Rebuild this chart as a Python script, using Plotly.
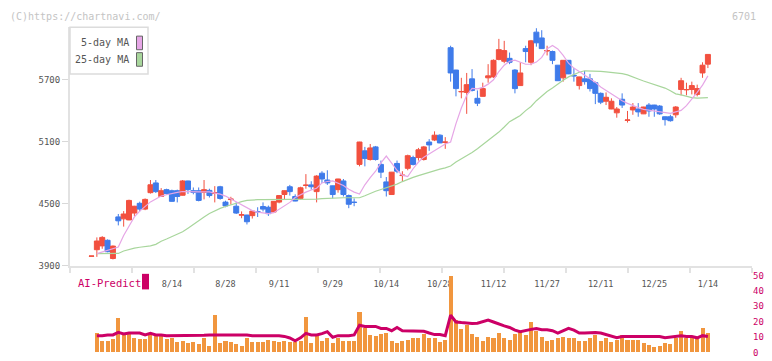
import plotly.graph_objects as go

W, H = 772, 361


def fx(px):
    return px / W


def fy(py):
    return 1 - py / H


# ---------------- data ----------------
tick_idx = [15, 25, 35, 45, 55, 65, 75, 85, 95, 105, 115]
tick_text = ["8/14", "8/28", "9/11", "9/29", "10/14", "10/28",
             "11/12", "11/27", "12/11", "12/25", "1/14"]

open_ = [3993, 4056, 4093, 4147, 3971, 4373, 4354, 4344, 4410, 4504,
         4448, 4607, 4701, 4570, 4636, 4626, 4626, 4582, 4720, 4626,
         4626, 4610, 4629, 4600, 4664, 4516, 4540, 4476, 4390, 4391,
         4385, 4425, 4473, 4466, 4420, 4516, 4589, 4664, 4570, 4551,
         4676, 4682, 4617, 4795, 4729, 4673, 4636, 4720, 4579, 4515,
         4880, 5011, 4927, 5049, 4880, 4711, 4589, 4889, 4772, 4842,
         4946, 4946, 4927, 5096, 5115, 5162, 5092, 6007, 5791, 5580,
         5575, 5706, 5518, 5537, 5716, 5725, 5894, 5876, 5904, 5791,
         5641, 5998, 5866, 6157, 6101, 5975, 5970, 5838, 5716, 5885,
         5740, 5641, 5706, 5706, 5669, 5566, 5490, 5415, 5378, 5509,
         5305, 5406, 5415, 5368, 5453, 5453, 5443, 5340, 5340, 5359,
         5603, 5600, 5603, 5556, 5763, 5848]
high = [3995, 4175, 4187, 4156, 4097, 4401, 4429, 4539, 4480, 4520,
        4551, 4729, 4729, 4651, 4645, 4636, 4636, 4729, 4722, 4657,
        4657, 4729, 4645, 4670, 4673, 4529, 4567, 4513, 4426, 4393,
        4431, 4466, 4513, 4482, 4525, 4581, 4628, 4682, 4591, 4664,
        4786, 4717, 4776, 4814, 4823, 4675, 4741, 4739, 4589, 4551,
        5098, 5049, 5077, 5058, 4917, 4758, 4807, 4917, 4814, 4974,
        4964, 5039, 5058, 5124, 5199, 5171, 5143, 6026, 5793, 5716,
        5763, 5800, 5594, 5669, 5848, 5894, 6092, 6073, 5960, 5800,
        5866, 6026, 6082, 6195, 6176, 6026, 5979, 5840, 5887, 5887,
        5810, 5727, 5782, 5754, 5679, 5575, 5575, 5518, 5434, 5566,
        5396, 5472, 5472, 5436, 5472, 5455, 5453, 5342, 5359, 5443,
        5716, 5669, 5679, 5650, 5866, 5944]
low = [3993, 3987, 4065, 4031, 3962, 4291, 4279, 4341, 4382, 4426,
       4438, 4598, 4604, 4567, 4589, 4520, 4513, 4579, 4595, 4591,
       4523, 4542, 4560, 4513, 4539, 4466, 4492, 4401, 4360, 4300,
       4357, 4372, 4426, 4382, 4410, 4504, 4542, 4579, 4524, 4542,
       4645, 4636, 4513, 4701, 4682, 4551, 4607, 4570, 4457, 4476,
       4861, 4861, 4917, 4917, 4748, 4570, 4587, 4795, 4711, 4823,
       4870, 4917, 4917, 5011, 5105, 5085, 5030, 5679, 5537, 5518,
       5368, 5584, 5443, 5535, 5669, 5716, 5885, 5857, 5848, 5566,
       5639, 5866, 5838, 6017, 5996, 5932, 5848, 5686, 5679, 5752,
       5679, 5603, 5650, 5584, 5462, 5462, 5453, 5413, 5331, 5425,
       5284, 5359, 5340, 5366, 5340, 5340, 5359, 5255, 5293, 5331,
       5547, 5547, 5556, 5537, 5716, 5810]
close = [3995, 4140, 4175, 4037, 4091, 4335, 4401, 4532, 4476, 4448,
         4542, 4683, 4617, 4626, 4598, 4523, 4570, 4720, 4636, 4610,
         4532, 4636, 4579, 4607, 4551, 4479, 4545, 4410, 4394, 4326,
         4429, 4422, 4448, 4404, 4523, 4579, 4626, 4617, 4526, 4654,
         4680, 4664, 4767, 4739, 4701, 4589, 4739, 4589, 4495, 4513,
         5096, 4936, 5039, 4927, 4805, 4626, 4805, 4814, 4776, 4964,
         4880, 5021, 5049, 5068, 5162, 5087, 5096, 5763, 5612, 5584,
         5650, 5594, 5471, 5612, 5735, 5885, 5988, 5979, 5866, 5612,
         5763, 5970, 6073, 6054, 5998, 5979, 5885, 5688, 5885, 5754,
         5735, 5725, 5679, 5612, 5566, 5481, 5528, 5490, 5415, 5453,
         5309, 5434, 5387, 5434, 5396, 5415, 5368, 5312, 5302, 5434,
         5688, 5603, 5641, 5612, 5838, 5942]

ma5 = [None, 4018, 4034, 4053, 4072, 4081, 4194, 4283, 4373, 4429,
       4471, 4518, 4546, 4574, 4587, 4600, 4610, 4618, 4619, 4615,
       4614, 4614, 4614, 4603, 4593, 4574, 4546, 4518, 4482, 4457,
       4434, 4419, 4408, 4404, 4414, 4448, 4485, 4513, 4560, 4589,
       4612, 4633, 4650, 4701, 4715, 4720, 4697, 4677, 4640, 4612,
       4593, 4683, 4751, 4814, 4894, 4960, 4892, 4823, 4776, 4762,
       4838, 4903, 4950, 4983, 5016, 5046, 5077, 5096, 5274, 5425,
       5547, 5613, 5610, 5624, 5655, 5697, 5777, 5838, 5876, 5887,
       5866, 5847, 5847, 5868, 5913, 5996, 6029, 5995, 5932, 5857,
       5810, 5777, 5744, 5711, 5674, 5628, 5594, 5560, 5525, 5495,
       5469, 5446, 5428, 5412, 5405, 5396, 5388, 5380, 5373, 5387,
       5401, 5448, 5509, 5575, 5645, 5735]
ma25 = [None, 4018, 4018, 4018, 4018, 4020, 4044, 4060, 4072, 4080,
        4086, 4093, 4108, 4138, 4159, 4182, 4205, 4229, 4264, 4302,
        4337, 4373, 4405, 4434, 4455, 4473, 4491, 4508, 4521, 4532,
        4537, 4539, 4539, 4539, 4539, 4539, 4539, 4539, 4539, 4539,
        4539, 4539, 4545, 4549, 4553, 4557, 4558, 4558, 4558, 4558,
        4558, 4577, 4600, 4621, 4638, 4654, 4671, 4689, 4714, 4737,
        4754, 4772, 4789, 4806, 4822, 4834, 4847, 4865, 4903, 4931,
        4962, 4994, 5032, 5070, 5110, 5150, 5192, 5241, 5293, 5322,
        5353, 5399, 5439, 5495, 5542, 5584, 5618, 5657, 5692, 5725,
        5751, 5770, 5784, 5784, 5782, 5779, 5774, 5770, 5765, 5756,
        5744, 5727, 5704, 5685, 5669, 5652, 5637, 5617, 5591, 5561,
        5551, 5535, 5525, 5520, 5520, 5525]

volume = [None, 12.8, 7.2, 7.2, 8.8, 22.3, 11.4, 12.8, 9.3, 8.8,
          8.8, 11.6, 11.0, 11.8, 8.8, 9.3, 6.7, 7.2, 6.1, 6.7,
          5.5, 9.3, 4.0, 24.2, 6.4, 7.2, 6.7, 5.5, 4.0, 9.1,
          6.5, 6.5, 6.5, 8.2, 7.6, 6.5, 7.2, 6.5, 6.5, 7.2,
          23.0, 5.9, 11.2, 7.6, 9.1, 5.9, 9.1, 7.2, 7.6, 7.2,
          26.1, 15.6, 11.4, 11.0, 11.8, 12.8, 7.2, 6.1, 7.5, 8.2,
          9.1, 9.1, 12.2, 9.7, 9.1, 6.5, 7.8, 50.0, 21.1, 15.4,
          17.9, 12.2, 10.3, 7.2, 10.3, 9.1, 12.8, 9.7, 7.8, 12.2,
          14.1, 11.6, 19.8, 14.1, 10.3, 7.2, 8.4, 9.1, 10.3, 9.7,
          9.7, 7.2, 7.2, 9.1, 11.6, 7.2, 9.7, 6.5, 7.8, 11.6,
          8.4, 8.4, 8.4, 5.9, 4.6, 3.4, 4.0, 5.9, 5.3, 9.1,
          14.1, 9.7, 9.1, 9.1, 16.0, 12.8]
ai_predict = [None, 10.9, 10.9, 11.4, 11.4, 13.1, 12.0, 12.6, 12.6, 12.6,
              11.4, 12.4, 11.4, 11.4, 10.9, 10.9, 10.9, 10.9, 10.9, 10.9,
              10.9, 11.2, 11.4, 11.4, 11.4, 11.4, 11.4, 11.4, 11.4, 11.4,
              10.9, 10.9, 10.9, 10.9, 10.9, 10.9, 10.4, 9.4, 7.6, 9.5,
              12.4, 11.4, 11.4, 12.2, 13.5, 9.9, 10.9, 10.9, 10.9, 11.4,
              17.7, 16.9, 16.9, 16.9, 15.6, 15.6, 14.1, 16.2, 14.1, 14.1,
              14.1, 14.1, 13.7, 12.6, 11.6, 11.6, 10.9, 24.2, 19.8, 19.4,
              19.0, 18.8, 19.0, 20.0, 21.1, 19.8, 18.4, 17.3, 16.2, 14.5,
              13.5, 14.5, 15.0, 15.6, 14.8, 14.8, 14.1, 12.6, 14.1, 15.6,
              14.5, 12.6, 12.6, 13.0, 13.0, 12.6, 11.6, 10.5, 9.5, 10.3,
              10.3, 10.3, 10.3, 10.3, 10.3, 10.3, 10.3, 9.5, 9.9, 10.3,
              10.9, 10.3, 10.3, 9.5, 10.9, 10.3]

x = list(range(len(close)))

# ---------------- style ----------------
RED = "#f2503f"
BLUE = "#3f7bea"
PINK = "#e6a6e6"
GREEN = "#a8d69c"
ORANGE = "#f1963e"
CRIMSON = "#cc0066"
AXIS = "#e2e2e2"
MONO = "DejaVu Sans Mono"

# pixel geometry of the panels
X_LEFT, X_RIGHT = 70, 752
MAIN_TOP, MAIN_BOT = 23, 268.3
SUB_TOP, SUB_BOT = 278.3, 357.3
xr = [(X_LEFT - 91.5) / 5.36, (X_RIGHT - 91.5) / 5.36]
y_per_px = 600 / 63.9
yr = [3900, 3900 + (MAIN_BOT - MAIN_TOP) * y_per_px]

fig = go.Figure()

fig.add_trace(go.Candlestick(
    x=x, open=open_, high=high, low=low, close=close,
    increasing=dict(line=dict(color=RED, width=1), fillcolor=RED),
    decreasing=dict(line=dict(color=BLUE, width=1), fillcolor=BLUE),
    whiskerwidth=0, showlegend=False, xaxis="x", yaxis="y",
))
fig.add_trace(go.Scatter(x=x, y=ma25, mode="lines", line=dict(color=GREEN, width=1.2),
                         showlegend=False, xaxis="x", yaxis="y"))
fig.add_trace(go.Scatter(x=x, y=ma5, mode="lines", line=dict(color=PINK, width=1.2),
                         showlegend=False, xaxis="x", yaxis="y"))

fig.add_trace(go.Bar(x=x, y=volume, marker=dict(color=ORANGE, line=dict(width=0)),
                     width=0.75, showlegend=False, xaxis="x2", yaxis="y2"))
fig.add_trace(go.Scatter(x=x, y=ai_predict, mode="lines", line=dict(color=CRIMSON, width=3),
                         showlegend=False, xaxis="x2", yaxis="y2"))

fig.update_layout(
    width=W, height=H, autosize=False,
    margin=dict(l=0, r=0, t=0, b=0),
    paper_bgcolor="white", plot_bgcolor="white",
    boxgap=0.07, boxgroupgap=0,
    bargap=0,
    font=dict(family=MONO, size=9, color="#555"),
    xaxis=dict(
        domain=[fx(X_LEFT), fx(X_RIGHT)], range=xr, anchor="y",
        rangeslider=dict(visible=False),
        showline=True, linecolor=AXIS, linewidth=2,
        showgrid=False, zeroline=False,
        tickmode="array", tickvals=tick_idx, ticktext=tick_text,
        ticks="outside", ticklen=9, tickcolor="rgba(0,0,0,0)",
        tickfont=dict(family=MONO, size=8.5, color="#555"),
        minor=dict(ticks="outside", ticklen=5, tickwidth=2, tickcolor=AXIS,
                   tickmode="linear", tick0=xr[0], dtick=(xr[1] - xr[0]) / 11,
                   showgrid=False),
    ),
    yaxis=dict(
        domain=[fy(MAIN_BOT), fy(MAIN_TOP)], range=yr, anchor="x",
        showline=True, linecolor=AXIS, linewidth=2,
        showgrid=False, zeroline=False,
        tickmode="array", tickvals=[3900, 4500, 5100, 5700],
        ticks="outside", ticklen=6, tickwidth=1, tickcolor="#d8d8d8",
        tickfont=dict(family=MONO, size=9, color="#555"),
    ),
    xaxis2=dict(
        domain=[fx(X_LEFT), fx(X_RIGHT)], range=xr, anchor="y2", matches="x",
        showline=False, showgrid=False, zeroline=False, showticklabels=False, ticks="",
    ),
    yaxis2=dict(
        domain=[fy(SUB_BOT), fy(SUB_TOP)], range=[0, 50], anchor="x2", side="right",
        showline=False, showgrid=False, zeroline=False,
        tickmode="array", tickvals=[0, 10, 20, 30, 40, 50], ticks="",
        tickfont=dict(family=MONO, size=9, color=CRIMSON),
    ),
)

# header texts
fig.add_annotation(x=fx(8), y=fy(12), xref="paper", yref="paper", xanchor="left", yanchor="middle",
                   text="(C)https://chartnavi.com/", showarrow=False,
                   font=dict(family=MONO, size=10, color="#c4c4c4"))
fig.add_annotation(x=fx(758), y=fy(12), xref="paper", yref="paper", xanchor="right", yanchor="middle",
                   text="6701", showarrow=False,
                   font=dict(family=MONO, size=10, color="#c4c4c4"))

# legend box
fig.add_shape(type="rect", xref="paper", yref="paper",
              x0=fx(70), x1=fx(148), y0=fy(71), y1=fy(23),
              line=dict(color="#dcdcdc", width=1.5), fillcolor="white", layer="above")
legend_items = [("5-day MA", PINK, 39), ("25-day MA", GREEN, 56)]
for label, col, yc in legend_items:
    fig.add_annotation(x=fx(131), y=fy(yc), xref="paper", yref="paper",
                       xanchor="right", yanchor="middle", text=label, showarrow=False,
                       font=dict(family=MONO, size=10, color="#555"))
    fig.add_shape(type="rect", xref="paper", yref="paper",
                  x0=fx(136.5), x1=fx(142.5), y0=fy(yc + 7), y1=fy(yc - 7),
                  line=dict(color="#666", width=1), fillcolor=col, layer="above")

# AI-Predict label
fig.add_annotation(x=fx(76), y=fy(286), xref="paper", yref="paper", xanchor="left", yanchor="middle",
                   text="AI-Predict", showarrow=False,
                   font=dict(family=MONO, size=10.5, color=CRIMSON))
fig.add_shape(type="rect", xref="paper", yref="paper",
              x0=fx(142), x1=fx(149), y0=fy(292.5), y1=fy(276.5),
              line=dict(width=0), fillcolor=CRIMSON)

fig.write_html(
    "out.html",
    config={"displayModeBar": False, "staticPlot": True},
    post_script="document.body.style.margin='0px';document.body.style.overflow='hidden';",
)
